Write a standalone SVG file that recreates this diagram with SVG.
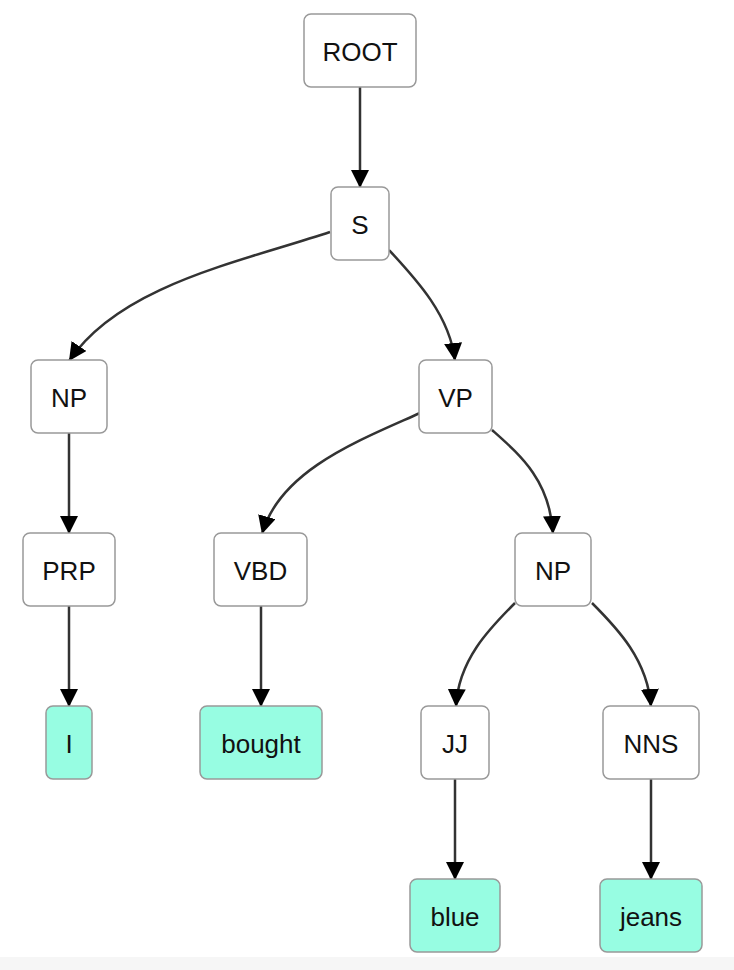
<svg xmlns="http://www.w3.org/2000/svg" width="734" height="970" viewBox="0 0 734 970">
  <style>
    .box { fill: #ffffff; stroke: #999999; stroke-width: 1.5; }
    .leaf { fill: #97fde2; stroke: #999999; stroke-width: 1.5; }
    .lbl { font-family: "Liberation Sans", Arial, Helvetica, sans-serif; font-size: 26px; fill: #111111; text-anchor: middle; }
    .edge { fill: none; stroke: #333333; stroke-width: 2.5; marker-end: url(#arrow); }
  </style>
  <defs>
    <marker id="arrow" viewBox="0 0 10 10" refX="10" refY="5" markerUnits="userSpaceOnUse" markerWidth="18" markerHeight="18" orient="auto">
      <path d="M0,0 L10,5 L0,10 z" fill="#000000"/>
    </marker>
  </defs>
  <rect x="0" y="0" width="734" height="970" fill="#ffffff"/>
  <rect x="0" y="957" width="734" height="13" fill="#f6f6f6"/>

  <g id="edges">
    <path class="edge" d="M360,87 L360,188"/>
    <path class="edge" d="M330,232 C240,262 120,285 69,361"/>
    <path class="edge" d="M389,250 C415,278 450,315 455,361"/>
    <path class="edge" d="M69,433 L69,534"/>
    <path class="edge" d="M420,413 C360,440 280,470 262,534"/>
    <path class="edge" d="M492,430 C520,455 550,480 553,534"/>
    <path class="edge" d="M69,606 L69,707"/>
    <path class="edge" d="M261,606 L261,707"/>
    <path class="edge" d="M515,603 C490,628 458,660 456,707"/>
    <path class="edge" d="M592,603 C617,628 648,660 651,707"/>
    <path class="edge" d="M455,779 L455,880"/>
    <path class="edge" d="M651,779 L651,880"/>
  </g>

  <g id="node-root"><rect class="box" x="304" y="14" width="112" height="73" rx="7"/><text class="lbl" x="360" y="61">ROOT</text></g>
  <g id="node-s"><rect class="box" x="331" y="187" width="58" height="73" rx="7"/><text class="lbl" x="360" y="234">S</text></g>
  <g id="node-np1"><rect class="box" x="31" y="360" width="76" height="73" rx="7"/><text class="lbl" x="69" y="407">NP</text></g>
  <g id="node-vp"><rect class="box" x="419" y="360" width="73" height="73" rx="7"/><text class="lbl" x="455.5" y="407">VP</text></g>
  <g id="node-prp"><rect class="box" x="23" y="533" width="92" height="73" rx="7"/><text class="lbl" x="69" y="580">PRP</text></g>
  <g id="node-vbd"><rect class="box" x="214" y="533" width="93" height="73" rx="7"/><text class="lbl" x="260.5" y="580">VBD</text></g>
  <g id="node-np2"><rect class="box" x="515" y="533" width="76" height="73" rx="7"/><text class="lbl" x="553" y="580">NP</text></g>
  <g id="node-i"><rect class="leaf" x="46" y="706" width="46" height="73" rx="7"/><text class="lbl" x="69" y="753">I</text></g>
  <g id="node-bought"><rect class="leaf" x="200" y="706" width="122" height="73" rx="7"/><text class="lbl" x="261" y="753">bought</text></g>
  <g id="node-jj"><rect class="box" x="421" y="706" width="68" height="73" rx="7"/><text class="lbl" x="455" y="753">JJ</text></g>
  <g id="node-nns"><rect class="box" x="603" y="706" width="96" height="73" rx="7"/><text class="lbl" x="651" y="753">NNS</text></g>
  <g id="node-blue"><rect class="leaf" x="410" y="879" width="90" height="73" rx="7"/><text class="lbl" x="455" y="926">blue</text></g>
  <g id="node-jeans"><rect class="leaf" x="600" y="879" width="102" height="73" rx="7"/><text class="lbl" x="651" y="926">jeans</text></g>
</svg>
